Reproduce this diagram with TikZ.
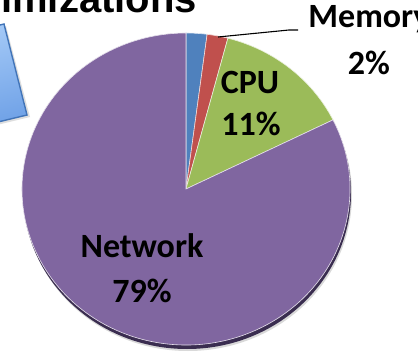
\documentclass[tikz,border=0pt]{standalone}
\usepackage{fontspec}
\setmainfont{Carlito}
\newfontfamily\titlefont{Liberation Sans}
\usetikzlibrary{calc}
\definecolor{pblue}{HTML}{4F81BD}
\definecolor{pred}{HTML}{C0504D}
\definecolor{pgreen}{HTML}{9BBB59}
\definecolor{ppurple}{HTML}{8066A0}
\definecolor{pshadow}{HTML}{3A2D50}
\definecolor{boxtop}{HTML}{A9CDF8}
\definecolor{boxbot}{HTML}{6C9FE6}
\definecolor{boxedge}{HTML}{4174B8}
\newcommand\pieslice[3]{\fill[#3, draw=white!80!#3, line width=0.6pt] (C) -- ([shift={(C)}]#1:164pt and 156pt) arc[start angle=#1, end angle=#2, x radius=164pt, y radius=156pt] -- cycle;}
\tikzset{
  lab/.style={font=\fontsize{34}{41}\selectfont\bfseries, inner sep=0pt, anchor=base},
  leader/.style={draw=black, line width=1.1pt},
}
\begin{document}
\begin{tikzpicture}[x=1pt,y=1pt]
\clip (0,0) rectangle (418,357);
\fill[white] (0,0) rectangle (418,357);
% title (cut off at top)
\node[font=\fontsize{40}{48}\selectfont\titlefont\bfseries, inner sep=0pt, anchor=base east] (title) at (197,344) {Optimizations};
% blue box at left
\fill[black!25, opacity=0.5] (6,331) -- (30,240) -- (-57,219) -- (-80,310) -- cycle;
\shade[top color=boxtop, bottom color=boxbot, shading angle=14, draw=boxedge, line width=1.4pt]
  (4,333) -- (27,242) -- (-60,221) -- (-83,312) -- cycle;
% pie
\coordinate (C) at (186,168);
\fill[black!15] ([shift={(2,-6)}]C) ellipse[x radius=164pt, y radius=156pt];
\fill[pshadow] ([shift={(1,-4)}]C) ellipse[x radius=164pt, y radius=156pt];
\pieslice{90}{82.6}{pblue}
\pieslice{82.6}{75.2}{pred}
\pieslice{75.2}{26.3}{pgreen}
\pieslice{26.3}{-270}{ppurple}
% labels
\node[lab] (cpu1) at (250,264) {CPU};
\node[lab] (cpu2) at (251,222) {11\%};
\node[lab] (net1) at (142,100) {Network};
\node[lab] (net2) at (142,55) {79\%};
\node[lab] (mem1) at (369,329) {Memory};
\node[lab] (mem2) at (369,282) {2\%};
% leader line
\coordinate (memtip) at (218,320);
\coordinate (membend) at (289,327);
\coordinate (memend) at (298,327);
\draw[leader] (memtip) -- (membend) -- (memend);
\end{tikzpicture}
\end{document}
